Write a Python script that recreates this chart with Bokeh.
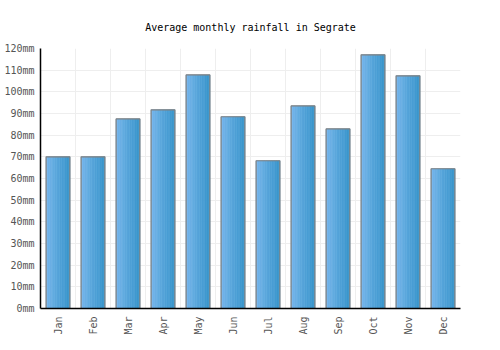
import math
from bokeh.plotting import figure
from bokeh.models import FactorRange, FixedTicker, PrintfTickFormatter, ColumnDataSource
from bokeh.transform import dodge
from bokeh.embed import file_html
from bokeh.resources import INLINE

months = ["Jan", "Feb", "Mar", "Apr", "May", "Jun", "Jul", "Aug", "Sep", "Oct", "Nov", "Dec"]
rainfall = [70, 70, 87.5, 91.7, 107.8, 88.5, 68.2, 93.5, 82.9, 117.1, 107.4, 64.5]
y_ticks = [0, 10, 20, 30, 40, 50, 60, 70, 80, 90, 100, 110, 120]
title_text = "Average monthly rainfall in Segrate"

source = ColumnDataSource(dict(month=months, rain=rainfall))

FONT = "DejaVu Sans Mono"
p = figure(width=500, height=350, x_range=FactorRange(*months, range_padding=0),
           y_range=(0, 120), output_backend="svg", toolbar_location=None,
           title=title_text, min_border_left=40, min_border_right=40,
           min_border_top=48, min_border_bottom=42)
p.title.align = "center"
p.title.text_font = FONT
p.title.text_font_size = "10px"
p.title.text_font_style = "normal"
p.title.text_color = "#000000"
p.title.standoff = 32

p.outline_line_color = None
p.background_fill_color = "white"
p.border_fill_color = "white"

# gradient bars as thin strips
bar_w = 0.68
N = 14
c0 = (0x74, 0xb5, 0xea)
c1 = (0x38, 0x94, 0xcb)
for i in range(N):
    t = i / (N - 1)
    col = "#%02x%02x%02x" % tuple(int(round(a + (b - a) * t)) for a, b in zip(c0, c1))
    off = -bar_w / 2 + bar_w / N * (i + 0.5)
    p.vbar(x=dodge("month", off, range=p.x_range), top="rain", width=bar_w / N,
           source=source, fill_color=col, line_color=col, line_width=0.6)
p.vbar(x="month", top="rain", width=bar_w, source=source, fill_color=None,
       line_color="#808080", line_width=1.2)

p.yaxis.ticker = FixedTicker(ticks=y_ticks)
p.yaxis.formatter = PrintfTickFormatter(format="%dmm")
p.xgrid.ticker = FixedTicker(ticks=list(range(len(months) + 1)))
p.ygrid.ticker = FixedTicker(ticks=y_ticks)
for g in (p.xgrid, p.ygrid):
    g.grid_line_color = "#eeeeee"
    g.grid_line_width = 1

for ax in (p.xaxis, p.yaxis):
    ax.major_label_text_font = FONT
    ax.major_label_text_font_size = "10px"
    ax.major_label_text_color = "#555555"
    ax.major_tick_line_color = None
    ax.minor_tick_line_color = None
    ax.major_tick_out = 0
    ax.major_tick_in = 0
    ax.minor_tick_out = 0
    ax.minor_tick_in = 0
    ax.axis_line_color = "#000000"
    ax.axis_line_width = 1.5
p.xaxis.major_label_orientation = math.pi / 2
p.xaxis.major_label_standoff = 8
p.yaxis.major_label_standoff = 6

open("out.html", "w").write(file_html(p, INLINE))
